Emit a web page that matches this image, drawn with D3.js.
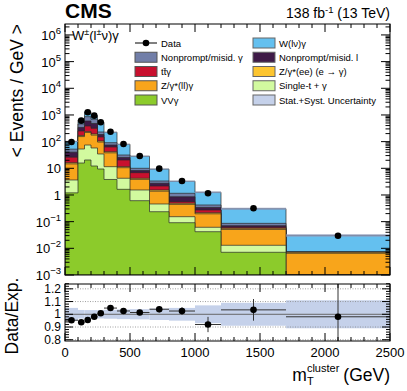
<!DOCTYPE html>
<html>
<head>
<meta charset="utf-8">
<script src="https://cdn.jsdelivr.net/npm/d3@7"></script>
<style>
  body { margin: 0; background: #fff; }
  text { font-family: "Liberation Sans", Arial, Helvetica, sans-serif; }
</style>
</head>
<body>
<svg id="chart" width="407" height="391"></svg>
<script>
// m_T^cluster bins (GeV)
var binEdges = [0, 100, 150, 200, 250, 300, 400, 500, 650, 800, 1000, 1200, 1700, 2500];

// < Events / GeV > per process, bottom of the stack first
var vvg        = [1.2, 15.8, 20.5, 12.2, 9.43, 3.81, 1.63, 0.611, 0.236, 0.0914, 0.042, 0.0071, 0.0008];
var singleT    = [2.45, 37, 54, 45.6, 25, 7.7, 2.6, 0.93, 0.223, 0.062, 0.0195, 0.0059, 0.0002];
var zllg       = [11, 102, 145, 118, 62, 26.5, 6.3, 2.3, 0.93, 0.29, 0.135, 0.038, 0.0055];
var zee        = [1.6, 15, 20, 18, 9.6, 4, 1.0, 0.38, 0.15, 0.045, 0.02, 0.0054, 0.0006];
var ttg        = [10, 81, 146, 123, 43, 21, 9, 2.63, 0.63, 0.072, 0.057, 0.005, 0.0001];
var nonpromptL = [14, 89, 209, 163, 36, 11.8, 5, 1.35, 0.58, 0.296, 0.068, 0.009, 0.0001];
var nonpromptG = [12, 119, 268, 209, 45, 16.6, 6, 1.8, 0.6, 0.3, 0.08, 0.016, 0.0001];
var wg         = [49.5, 193, 457, 270, 298, 133.6, 48, 18.4, 5.98, 2.11, 0.84, 0.219, 0.023];

var dataY    = [97, 611, 1260, 940, 532, 236, 81.6, 28.8, 9.7, 3.35, 1.16, 0.316, 0.0298];
var ratioErr = [0.012, 0.01, 0.008, 0.008, 0.01, 0.012, 0.016, 0.02, 0.025, 0.03, 0.06, 0.085, 0.35];
var uncRel   = [0.05, 0.034, 0.033, 0.033, 0.033, 0.035, 0.038, 0.04, 0.045, 0.05, 0.07, 0.09, 0.11];

var yExpMain    = [-3, -2, -1, 0, 1, 2, 3, 4, 5, 6];
var yTicksRatio = [0.8, 0.9, 1, 1.1, 1.2];
var xTicks      = [0, 500, 1000, 1500, 2000, 2500];

var procNames = ["VVγ", "Single-t + γ", "Z/γ*(ll)γ", "Z/γ*(ee) (e → γ)", "tt̄γ",
                 "Nonprompt/misid. l", "Nonprompt/misid. γ", "W(lν)γ"];
var procValues = [vvg, singleT, zllg, zee, ttg, nonpromptL, nonpromptG, wg];
var procColors = ["#8ccb2b", "#d2fa9f", "#f8a51b", "#fdc52f", "#c8102e", "#3f1a47", "#717ea8", "#64c0ef"];

var legendLeft  = ["Data", "Nonprompt/misid. γ", "tt̄γ", "Z/γ*(ll)γ", "VVγ"];
var legendRight = ["W(lν)γ", "Nonprompt/misid. l", "Z/γ*(ee) (e → γ)", "Single-t + γ", "Stat.+Syst. Uncertainty"];

var svg = d3.select("#chart");
var L = 65, R = 390, T = 24, B = 275, RT = 284, RB = 341;

var x = d3.scaleLinear().domain([0, 2500]).range([L, R]);
var y = d3.scaleLog().domain([1e-3, Math.pow(10, 6.41)]).range([B, T]).clamp(true);
var ry = d3.scaleLinear().domain([0.79, 1.238]).range([RB, RT]);

// stack
var nb = dataY.length;
var cum = [];
var run = d3.range(nb).map(function () { return 0; });
procValues.forEach(function (vals) {
  run = run.map(function (r, i) { return r + vals[i]; });
  cum.push(run.slice());
});
var total = cum[cum.length - 1];

svg.append("clipPath").attr("id", "cMain").append("rect")
  .attr("x", L).attr("y", T).attr("width", R - L).attr("height", B - T);
svg.append("clipPath").attr("id", "cRatio").append("rect")
  .attr("x", L).attr("y", RT).attr("width", R - L).attr("height", RB - RT);

function stepPath(tops) {
  var p = "M" + x(binEdges[0]) + "," + B;
  tops.forEach(function (v, i) {
    p += "V" + y(v) + "H" + x(binEdges[i + 1]);
  });
  return p + "V" + B + "Z";
}

var gMain = svg.append("g").attr("clip-path", "url(#cMain)");
for (var k = cum.length - 1; k >= 0; k--) {
  gMain.append("path").attr("d", stepPath(cum[k]))
    .attr("fill", procColors[k]).attr("stroke", "#2a2a2a").attr("stroke-width", 0.7);
}
// uncertainty on the stack
gMain.selectAll("rect.unc").data(total).enter().append("rect")
  .attr("x", function (d, i) { return x(binEdges[i]); })
  .attr("width", function (d, i) { return x(binEdges[i + 1]) - x(binEdges[i]); })
  .attr("y", function (d, i) { return y(d * (1 + uncRel[i])); })
  .attr("height", function (d, i) { return y(d * (1 - uncRel[i])) - y(d * (1 + uncRel[i])); })
  .attr("fill", "#8e9abb").attr("fill-opacity", 0.75);

// data points
gMain.selectAll("circle").data(dataY).enter().append("circle")
  .attr("cx", function (d, i) { return x((binEdges[i] + binEdges[i + 1]) / 2); })
  .attr("cy", function (d) { return y(d); })
  .attr("r", 3.3).attr("fill", "#000");

// ratio panel
var gRatio = svg.append("g").attr("clip-path", "url(#cRatio)");
gRatio.selectAll("rect").data(uncRel).enter().append("rect")
  .attr("x", function (d, i) { return x(binEdges[i]); })
  .attr("width", function (d, i) { return x(binEdges[i + 1]) - x(binEdges[i]); })
  .attr("y", function (d) { return ry(1 + d); })
  .attr("height", function (d) { return ry(1 - d) - ry(1 + d); })
  .attr("fill", "#c5d1ea");
[0.8, 0.9, 1.1, 1.2].forEach(function (v) {
  gRatio.append("line").attr("x1", L).attr("x2", R).attr("y1", ry(v)).attr("y2", ry(v))
    .attr("stroke", "#888").attr("stroke-width", 0.8).attr("stroke-dasharray", "1,1.5");
});
gRatio.append("line").attr("x1", L).attr("x2", R).attr("y1", ry(1)).attr("y2", ry(1))
  .attr("stroke", "#666").attr("stroke-width", 1);

var ratio = dataY.map(function (d, i) { return d / total[i]; });
ratio.forEach(function (r, i) {
  var cx = x((binEdges[i] + binEdges[i + 1]) / 2);
  gRatio.append("line").attr("x1", x(binEdges[i])).attr("x2", x(binEdges[i + 1]))
    .attr("y1", ry(r)).attr("y2", ry(r)).attr("stroke", "#333").attr("stroke-width", 1);
  gRatio.append("line").attr("x1", cx).attr("x2", cx)
    .attr("y1", ry(r - ratioErr[i])).attr("y2", ry(r + ratioErr[i])).attr("stroke", "#333").attr("stroke-width", 1);
  gRatio.append("circle").attr("cx", cx).attr("cy", ry(r)).attr("r", 3.3).attr("fill", "#000");
});

// frames and ticks
var axes = svg.append("g").attr("stroke", "#000").attr("stroke-width", 1);
[[T, B], [RT, RB]].forEach(function (p) {
  axes.append("rect").attr("x", L).attr("y", p[0]).attr("width", R - L).attr("height", p[1] - p[0])
    .attr("fill", "none");
  d3.range(0, 2501, 100).forEach(function (v) {
    var len = v % 500 === 0 ? 8 : 4;
    axes.append("line").attr("x1", x(v)).attr("x2", x(v)).attr("y1", p[0]).attr("y2", p[0] + len);
    axes.append("line").attr("x1", x(v)).attr("x2", x(v)).attr("y1", p[1]).attr("y2", p[1] - len);
  });
});
function yTick(py, len) {
  axes.append("line").attr("x1", L).attr("x2", L + len).attr("y1", py).attr("y2", py);
  axes.append("line").attr("x1", R).attr("x2", R - len).attr("y1", py).attr("y2", py);
}
yExpMain.forEach(function (e) {
  yTick(y(Math.pow(10, e)), 9);
  d3.range(2, 10).forEach(function (m) {
    var v = m * Math.pow(10, e);
    if (v < y.domain()[1]) yTick(y(v), 4.5);
  });
});
d3.range(0.8, 1.2401, 0.02).forEach(function (v) {
  var major = Math.abs(v * 10 - Math.round(v * 10)) < 1e-6;
  yTick(ry(v), major ? 8 : 4);
});

// tick labels
var fs = 13;
yExpMain.forEach(function (e) {
  var t = svg.append("text").attr("x", 61).attr("y", y(Math.pow(10, e)) + 5)
    .attr("text-anchor", "end").attr("font-size", fs);
  if (e === 0) t.text("1");
  else if (e === 1) t.text("10");
  else {
    t.append("tspan").text("10");
    t.append("tspan").attr("dy", -6).attr("font-size", 9.5).text(e < 0 ? "−" + (-e) : e);
  }
});
yTicksRatio.forEach(function (v) {
  svg.append("text").attr("x", 61).attr("y", ry(v) + 4).attr("text-anchor", "end")
    .attr("font-size", 12).text(v === 1 ? "1" : v.toFixed(1));
});
xTicks.forEach(function (v) {
  svg.append("text").attr("x", x(v)).attr("y", 357).attr("text-anchor", "middle")
    .attr("font-size", fs).text(v);
});

// axis titles
svg.append("text").attr("transform", "translate(23," + T + ") rotate(-90)")
  .attr("text-anchor", "end").attr("font-size", 17.5).text("< Events / GeV >");
svg.append("text").attr("transform", "translate(18,316) rotate(-90)")
  .attr("text-anchor", "middle").attr("font-size", 17.5).text("Data/Exp.");

var xt = svg.append("g");
var m = xt.append("text").attr("font-size", 17.5).attr("y", 381).text("m");
var mw = m.node().getComputedTextLength();
var sub = xt.append("text").attr("font-size", 11).attr("x", mw).attr("y", 385).text("T");
var sup = xt.append("text").attr("font-size", 11).attr("x", mw).attr("y", 372).text("cluster");
var sw = Math.max(sub.node().getComputedTextLength(), sup.node().getComputedTextLength());
var gev = xt.append("text").attr("font-size", 17.5).attr("x", mw + sw + 4).attr("y", 381).text("(GeV)");
var totalW = mw + sw + 4 + gev.node().getComputedTextLength();
xt.attr("transform", "translate(" + (R - totalW) + ",0)");

// header
svg.append("text").attr("x", L).attr("y", 18).attr("font-size", 21).attr("font-weight", "bold").text("CMS");
var lumi = svg.append("text").attr("x", R).attr("y", 18).attr("text-anchor", "end").attr("font-size", 14);
lumi.append("tspan").text("138 fb");
lumi.append("tspan").attr("dy", -5).attr("font-size", 9.5).text("-1");
lumi.append("tspan").attr("dy", 5).text(" (13 TeV)");

var ch = svg.append("text").attr("x", 72).attr("y", 40).attr("font-size", 13);
ch.append("tspan").text("W");
ch.append("tspan").attr("dy", -5).attr("font-size", 9).text("±");
ch.append("tspan").attr("dy", 5).text("(l");
ch.append("tspan").attr("dy", -5).attr("font-size", 9).text("±");
ch.append("tspan").attr("dy", 5).text("ν)γ");

// legend
function legendBox(bx, cy, fill, stroke) {
  svg.append("rect").attr("x", bx).attr("y", cy - 5).attr("width", 22).attr("height", 10)
    .attr("fill", fill).attr("stroke", stroke).attr("stroke-width", 1);
}
var rowY = d3.range(5).map(function (i) { return 43 + i * 14.25; });
legendLeft.forEach(function (name, i) {
  var cy = rowY[i];
  if (name === "Data") {
    svg.append("line").attr("x1", 135).attr("x2", 157).attr("y1", cy).attr("y2", cy)
      .attr("stroke", "#000").attr("stroke-width", 1);
    svg.append("circle").attr("cx", 146).attr("cy", cy).attr("r", 3.3).attr("fill", "#000");
  } else {
    legendBox(135, cy, procColors[procNames.indexOf(name)], "#555");
  }
  svg.append("text").attr("x", 161).attr("y", cy + 3.5).attr("font-size", 9.5).text(name);
});
legendRight.forEach(function (name, i) {
  var cy = rowY[i];
  var idx = procNames.indexOf(name);
  legendBox(253, cy, idx >= 0 ? procColors[idx] : "#c5d1ea", "#666");
  svg.append("text").attr("x", 279).attr("y", cy + 3.5).attr("font-size", 9.5).text(name);
});
</script>
</body>
</html>
